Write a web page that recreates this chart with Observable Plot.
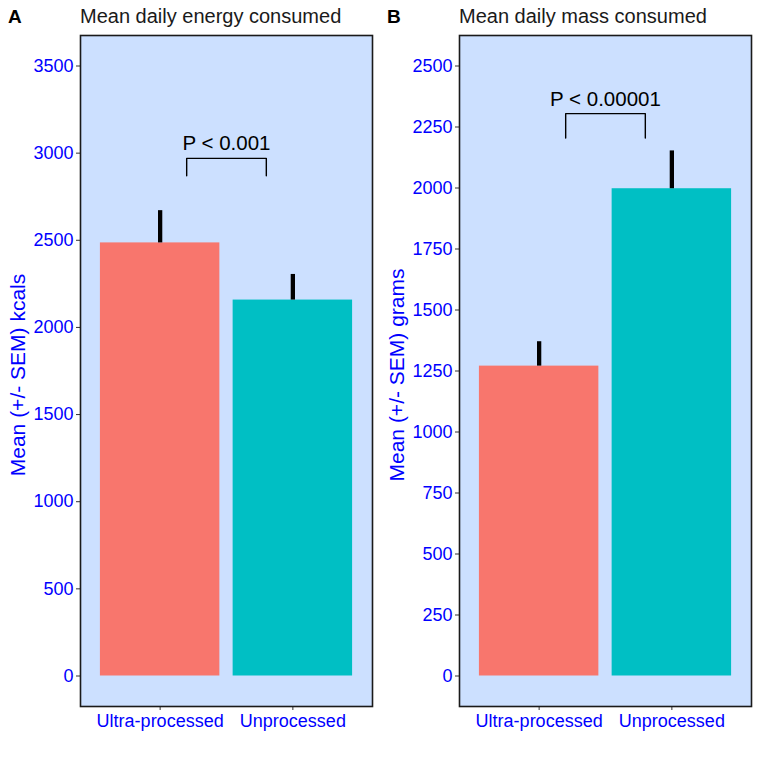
<!DOCTYPE html>
<html>
<head>
<meta charset="utf-8">
<script src="https://cdn.jsdelivr.net/npm/d3@7"></script>
<script src="https://cdn.jsdelivr.net/npm/@observablehq/plot@0.6"></script>
<style>
  body { margin: 0; background: #fff; font-family: "Liberation Sans", Arial, Helvetica, sans-serif; }
  #fig { position: relative; width: 759px; height: 759px; overflow: hidden; }
  .panel { position: absolute; top: 0; }
  .tag { position: absolute; font-weight: bold; font-size: 19px; line-height: 1; color: #000; }
  .title { position: absolute; font-size: 20px; line-height: 1; color: #1a1a1a; }
</style>
</head>
<body>
<div id="fig"></div>
<script>
// Diet groups shown on the x axis
const groups = ["Ultra-processed", "Unprocessed"];
const groupColors = ["#F8766D", "#00BFC4"];

// Panel A: mean daily energy (kcal) and its SEM
const energyMean = [2485, 2157];
const energySem = [185, 147];
const energyTicks = [0, 500, 1000, 1500, 2000, 2500, 3000, 3500];
const energyDomain = [-175, 3675];
const energyBracket = [2870, 2970];   // bracket foot, bracket top
const energyP = "P < 0.001";

// Panel B: mean daily mass (g) and its SEM
const massMean = [1270, 1997];
const massSem = [100, 155];
const massTicks = [0, 250, 500, 750, 1000, 1250, 1500, 1750, 2000, 2250, 2500];
const massDomain = [-125, 2625];
const massBracket = [2205, 2305];
const massP = "P < 0.00001";

const panels = [
  {tag: "A", title: "Mean daily energy consumed", ylabel: "Mean (+/- SEM) kcals",
   mean: energyMean, sem: energySem, ticks: energyTicks, domain: energyDomain,
   bracket: energyBracket, p: energyP, left: 0},
  {tag: "B", title: "Mean daily mass consumed", ylabel: "Mean (+/- SEM) grams",
   mean: massMean, sem: massSem, ticks: massTicks, domain: massDomain,
   bracket: massBracket, p: massP, left: 379}
];

const fig = document.getElementById("fig");
const blue = "#0000FF";

for (const pn of panels) {
  const rows = groups.map((g, i) => ({
    group: g, pos: i + 1, mean: pn.mean[i], sem: pn.sem[i], color: groupColors[i]
  }));
  const [foot, top] = pn.bracket;
  const bracketPath = [
    {x: 1.2, y: foot}, {x: 1.2, y: top}, {x: 1.8, y: top}, {x: 1.8, y: foot}
  ];

  const chart = Plot.plot({
    width: 380,
    height: 759,
    marginLeft: 80,
    marginRight: 8,
    marginTop: 35,
    marginBottom: 53,
    style: {fontFamily: '"Liberation Sans", Arial, Helvetica, sans-serif', background: "transparent"},
    x: {domain: [0.4, 2.6], axis: null},
    y: {domain: pn.domain, axis: null},
    marks: [
      Plot.frame({fill: "#CCE0FF", stroke: null}),
      Plot.rectY(rows, {
        x1: d => d.pos - 0.45, x2: d => d.pos + 0.45,
        y1: 0, y2: "mean", fill: "color"
      }),
      Plot.ruleX(rows, {x: "pos", y1: "mean", y2: d => d.mean + d.sem, stroke: "#000", strokeWidth: 4.3}),
      Plot.line(bracketPath, {x: "x", y: "y", stroke: "#000", strokeWidth: 1.4}),
      Plot.text([pn.p], {x: 1.5, y: top, text: d => d, lineAnchor: "bottom", dy: -8,
        fontSize: 20.5, fill: "#000"}),
      Plot.axisY({ticks: pn.ticks, tickSize: 4, tickPadding: 3, fontSize: 18,
        stroke: "#333", fill: blue, label: null, tickFormat: d => String(d)}),
      Plot.axisX({ticks: [1, 2], tickSize: 4, tickPadding: 4, fontSize: 18,
        stroke: "#333", fill: blue, label: null, tickFormat: d => groups[d - 1]}),
      Plot.text([pn.ylabel], {frameAnchor: "left", textAnchor: "middle", rotate: -90,
        dx: -62, dy: 4, fontSize: 21, fill: blue, text: d => d}),
      Plot.frame({stroke: "#1a1a1a", strokeWidth: 1.6})
    ]
  });
  chart.classList.add("panel");
  chart.style.left = pn.left + "px";
  fig.appendChild(chart);

  const tag = document.createElement("div");
  tag.className = "tag";
  tag.textContent = pn.tag;
  tag.style.left = (pn.left + 8) + "px";
  tag.style.top = "7px";
  fig.appendChild(tag);

  const title = document.createElement("div");
  title.className = "title";
  title.textContent = pn.title;
  title.style.left = (pn.left + 80) + "px";
  title.style.top = "6px";
  fig.appendChild(title);
}
</script>
</body>
</html>
